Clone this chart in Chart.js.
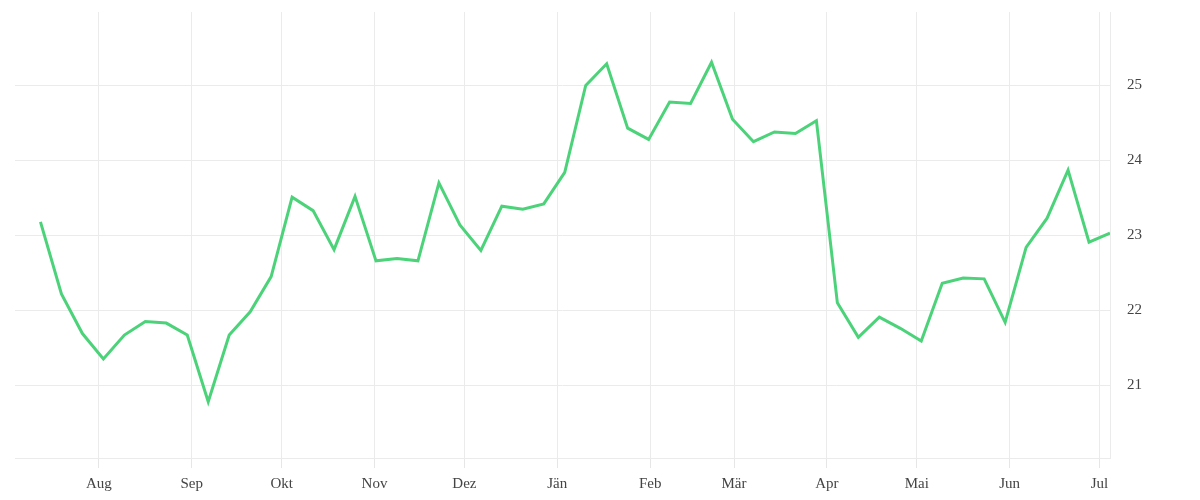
<!DOCTYPE html>
<html>
<head>
<meta charset="utf-8">
<script src="https://cdn.jsdelivr.net/npm/chart.js@4.4.0/dist/chart.umd.min.js"></script>
<style>
  html, body { margin: 0; padding: 0; background: #fff; }
  #wrap { width: 1200px; height: 500px; }
</style>
</head>
<body>
<div id="wrap"><canvas id="chart"></canvas></div>
<script>
// weekly values, first week starts 2022-07-12
const startDate = '2022-07-12';
const values = [
  23.18, 22.22, 21.69, 21.35, 21.67, 21.85, 21.83, 21.67, 20.78, 21.67,
  21.98, 22.45, 23.51, 23.33, 22.81, 23.52, 22.66, 22.69, 22.66, 23.70,
  23.14, 22.80, 23.39, 23.35, 23.42, 23.84, 25.00, 25.29, 24.43, 24.28,
  24.78, 24.76, 25.31, 24.55, 24.25, 24.38, 24.36, 24.53, 22.10, 21.64,
  21.91, 21.76, 21.59, 22.36, 22.43, 22.42, 21.84, 22.84, 23.23, 23.87,
  22.91, 23.03
];
const monthLabels = ['Aug', 'Sep', 'Okt', 'Nov', 'Dez', 'Jän', 'Feb', 'Mär', 'Apr', 'Mai', 'Jun', 'Jul'];
const monthStarts = ['2022-08-01', '2022-09-01', '2022-10-01', '2022-11-01', '2022-12-01', '2023-01-01',
  '2023-02-01', '2023-03-01', '2023-04-01', '2023-05-01', '2023-06-01', '2023-07-01'];
const yTicks = [21, 22, 23, 24, 25];

// days since 2022-07-01
const origin = Date.UTC(2022, 6, 1);
const dayOf = s => (Date.parse(s + 'T12:00:00Z') - origin) / 86400000;

const startDay = dayOf(startDate);
const points = values.map((v, i) => ({ x: startDay + i * 7, y: v }));
const monthDays = monthStarts.map(dayOf).map(d => d - 0.5);

const gridColor = '#ebebeb';
const font = { family: '"Liberation Serif", serif', size: 15 };

new Chart(document.getElementById('chart'), {
  type: 'line',
  data: {
    datasets: [{
      data: points,
      borderColor: '#4cd37a',
      borderWidth: 3,
      pointRadius: 0,
      tension: 0,
      fill: false
    }]
  },
  options: {
    responsive: true,
    maintainAspectRatio: false,
    animation: false,
    layout: { padding: { left: 15, top: 12, right: 0, bottom: 0 } },
    plugins: { legend: { display: false }, tooltip: { enabled: false } },
    scales: {
      x: {
        type: 'linear',
        min: 3,
        max: points[points.length - 1].x,
        afterBuildTicks: scale => { scale.ticks = monthDays.map(v => ({ value: v })); },
        afterFit: scale => { scale.height = 42; },
        grid: { color: gridColor, tickColor: '#e6e6e6', tickLength: 10, drawTicks: true },
        border: { color: gridColor },
        ticks: {
          color: '#444',
          font: font,
          padding: 7,
          maxRotation: 0,
          autoSkip: false,
          callback: (v, i) => monthLabels[i]
        }
      },
      y: {
        position: 'right',
        min: 20.03,
        max: 25.98,
        afterBuildTicks: scale => { scale.ticks = yTicks.map(v => ({ value: v })); },
        afterFit: scale => { scale.width = 90; scale.paddingTop = 0; },
        grid: { color: gridColor, drawTicks: false },
        border: { color: gridColor },
        ticks: {
          color: '#444',
          font: font,
          padding: 17,
          callback: v => v
        }
      }
    }
  }
});
</script>
</body>
</html>
